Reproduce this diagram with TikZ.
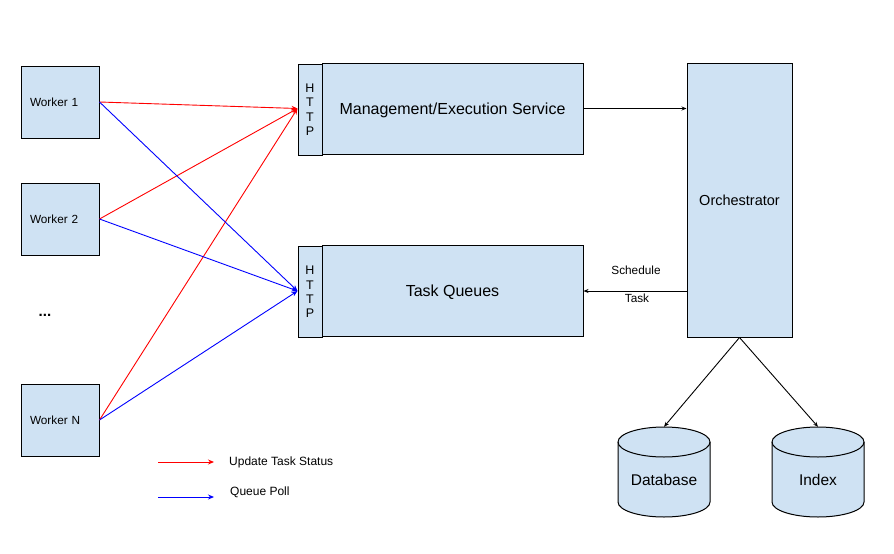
\documentclass[tikz,border=0pt]{standalone}
\usepackage{fontspec}
\setmainfont{Liberation Sans}
\usetikzlibrary{arrows.meta,calc}
\definecolor{boxblue}{HTML}{CFE2F3}
\definecolor{rred}{HTML}{FF0000}
\definecolor{bblue}{HTML}{0000FF}
\begin{document}
\begin{tikzpicture}[x=1pt,y=-1pt,
  box/.style={draw=black,fill=boxblue,line width=1pt,inner sep=0pt},
  worker/.style={box,minimum width=78pt,minimum height=72pt,text width=60pt,inner xsep=9pt,align=left,text depth=0pt,font=\fontsize{11.8}{13}\selectfont},
  httpbox/.style={box,minimum width=24pt,minimum height=91pt,align=center,font=\fontsize{12.5}{14.4}\selectfont},
  mainbox/.style={box,minimum width=261pt,minimum height=91pt,text depth=0pt,font=\fontsize{16}{19}\selectfont},
  lbl/.style={inner sep=0pt,font=\fontsize{11.8}{14}\selectfont},
  leg/.style={inner sep=0pt,anchor=west,font=\fontsize{12}{14}\selectfont},
  dbtext/.style={inner sep=0pt,font=\fontsize{15.5}{18}\selectfont},
  ra/.style={draw=rred,line width=0.9pt,-{Stealth[length=6pt,width=5pt]}},
  ba/.style={draw=bblue,line width=0.9pt,-{Stealth[length=6pt,width=5pt]}},
  ka/.style={draw=black,line width=0.9pt,-{Stealth[length=5pt,width=4pt]}}
]
\useasboundingbox (0,0) rectangle (894,554);
\fill[white] (0,0) rectangle (894,554);

% workers
\node[worker] (w1) at (60,102) {Worker 1};
\node[worker] (w2) at (60,219) {Worker 2};
\node[worker] (wn) at (60,420) {Worker N};
\node[inner sep=0pt,font=\fontsize{15}{17}\selectfont\bfseries] (dots) at (45,315) {...};

% services
\node[httpbox] (h1) at (310,109.5) {H\\T\\T\\P};
\node[mainbox] (m1) at (452.5,108.5) {Management/Execution Service};
\node[httpbox] (h2) at (310,292) {H\\T\\T\\P};
\node[mainbox] (q) at (452.5,291) {Task Queues};

% orchestrator
\node[box,minimum width=105pt,minimum height=274pt,text depth=0pt,font=\fontsize{14.5}{17}\selectfont] (orch) at (739.5,200) {Orchestrator};

% cylinders
\foreach \cx/\nm in {664/db,818/ix}{
  \path[box] (\cx-46,442) -- (\cx-46,502)
     arc[start angle=180,end angle=0,x radius=46,y radius=15]
     -- (\cx+46,442)
     arc[start angle=0,end angle=-180,x radius=46,y radius=15] -- cycle;
  \draw[line width=1pt] (\cx-46,442) arc[start angle=180,end angle=0,x radius=46,y radius=15];
  \node[inner sep=0pt,minimum width=92pt,minimum height=90pt] (\nm) at (\cx,472) {};
}
\node[dbtext] (dbl) at (664,480) {Database};
\node[dbtext] (ixl) at (818,480) {Index};

% red arrows (update task status)
\draw[ra] (w1.east) -- (h1.west |- m1.west);
\draw[ra] (w2.east) -- (h1.west |- m1.west);
\draw[ra] (wn.east) -- (h1.west |- m1.west);
% blue arrows (queue poll)
\draw[ba] (w1.east) -- (h2.west |- q.west);
\draw[ba] (w2.east) -- (h2.west |- q.west);
\draw[ba] (wn.east) -- (h2.west |- q.west);

% black arrows
\draw[ka] (m1.east) -- (m1.east -| orch.west);
\draw[ka] (orch.west |- q.east) -- (q.east);
\node[lbl] (sch) at (636,270) {Schedule};
\node[lbl] (tsk) at (637,298) {Task};
\draw[ka] (orch.south) -- (db.north);
\draw[ka] (orch.south) -- (ix.north);

% legend
\coordinate (r1) at (158,462);
\coordinate (r2) at (214,462);
\coordinate (b1) at (158,497);
\coordinate (b2) at (214,497);
\draw[ra] (r1) -- (r2);
\draw[ba] (b1) -- (b2);
\node[leg] (lr) at (229,462) {Update Task Status};
\node[leg] (lb) at (230,492) {Queue Poll};
\end{tikzpicture}
\end{document}
